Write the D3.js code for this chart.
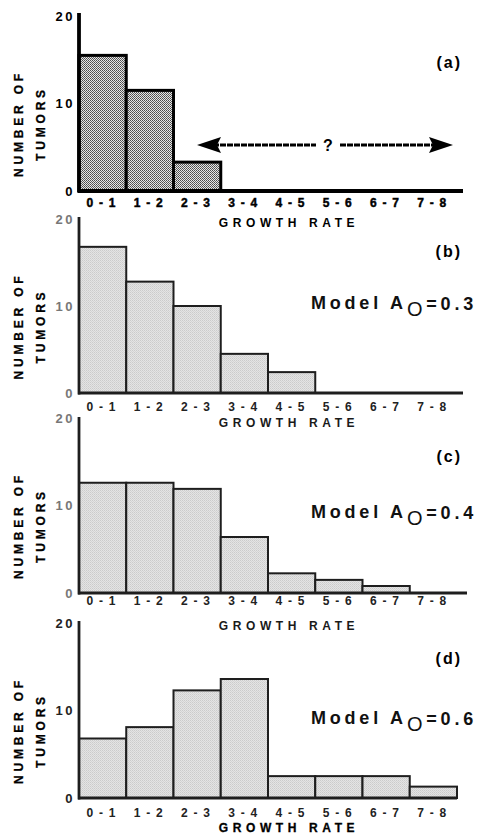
<!DOCTYPE html>
<html>
<head>
<meta charset="utf-8">
<script src="https://cdn.jsdelivr.net/npm/d3@7"></script>
<style>
  html, body { margin: 0; padding: 0; background: #fff; }
  svg { display: block; }
  text { font-family: "Liberation Sans", Arial, sans-serif; }
</style>
</head>
<body>
<svg id="chart" width="479" height="834"></svg>
<script>
// Growth-rate bins shared by all four histograms
const categories = ["0-1", "1-2", "2-3", "3-4", "4-5", "5-6", "6-7", "7-8"];

// Number of tumors per growth-rate bin
const observedCounts = [15.5, 11.5, 3.3];                              // (a)
const modelA03 = [16.8, 12.8, 10.0, 4.5, 2.4];                         // (b)
const modelA04 = [12.6, 12.6, 11.9, 6.4, 2.25, 1.5, 0.8];              // (c)
const modelA06 = [6.8, 8.1, 12.3, 13.6, 2.5, 2.5, 2.5, 1.3];           // (d)

const yTicks = [0, 10, 20];
const panelLetters = ["(a)", "(b)", "(c)", "(d)"];
const modelLabels = [null, "0.3", "0.4", "0.6"];
const xTitle = "GROWTH RATE";
const yTitle = ["NUMBER OF", "TUMORS"];

const svg = d3.select("#chart");

// Fill textures: heavy stipple for the observed data, fine light screen for the models
const defs = svg.append("defs");
const dark = defs.append("pattern").attr("id", "stippleDark")
  .attr("width", 2).attr("height", 2).attr("patternUnits", "userSpaceOnUse");
dark.append("rect").attr("width", 2).attr("height", 2).attr("fill", "#e6e6e6");
dark.append("rect").attr("x", 0).attr("y", 0).attr("width", 1).attr("height", 1).attr("fill", "#4a4a4a");
dark.append("rect").attr("x", 1).attr("y", 1).attr("width", 1).attr("height", 1).attr("fill", "#626262");

const light = defs.append("pattern").attr("id", "stippleLight")
  .attr("width", 2).attr("height", 2).attr("patternUnits", "userSpaceOnUse");
light.append("rect").attr("width", 2).attr("height", 2).attr("fill", "#e4e4e4");
light.append("rect").attr("x", 0).attr("y", 0).attr("width", 1).attr("height", 1).attr("fill", "#cbcbcb");
light.append("rect").attr("x", 1).attr("y", 1).attr("width", 1).attr("height", 1).attr("fill", "#d4d4d4");

const panels = [
  { values: observedCounts, base: 191, top: 16, axisTop: 13, axisEnd: 463, tickY: 203, titleY: 223,
    fill: "url(#stippleDark)", stroke: "#000", sw: 3, ink: "#000", tickInk: "#000", yTickInk: "#000",
    letterY: 62, modelY: null },
  { values: modelA03, base: 393, top: 219, axisTop: 217, axisEnd: 463, tickY: 407, titleY: 423,
    fill: "url(#stippleLight)", stroke: "#1e1e1e", sw: 2, ink: "#1a1a1a", tickInk: "#222", yTickInk: "#777",
    letterY: 251, modelY: 303 },
  { values: modelA04, base: 593, top: 418, axisTop: 417, axisEnd: 467, tickY: 601, titleY: 626,
    fill: "url(#stippleLight)", stroke: "#1e1e1e", sw: 2, ink: "#1a1a1a", tickInk: "#222", yTickInk: "#777",
    letterY: 456, modelY: 512 },
  { values: modelA06, base: 798, top: 623, axisTop: 621, axisEnd: 457, tickY: 813, titleY: 828,
    fill: "url(#stippleLight)", stroke: "#1e1e1e", sw: 2, ink: "#000", tickInk: "#222", yTickInk: "#222",
    letterY: 658, modelY: 718 }
];

const x = d3.scaleBand().domain(categories).range([79, 457]).paddingInner(0).paddingOuter(0);

panels.forEach((p, i) => {
  const g = svg.append("g");
  const y = d3.scaleLinear().domain([0, 20]).range([p.base, p.top]);
  const data = p.values.map((v, k) => ({ cat: categories[k], v }));

  // bars
  g.selectAll("rect.bar").data(data).join("rect")
    .attr("class", "bar")
    .attr("x", d => x(d.cat))
    .attr("y", d => y(d.v))
    .attr("width", x.bandwidth())
    .attr("height", d => y(0) - y(d.v))
    .attr("fill", p.fill)
    .attr("stroke", p.stroke)
    .attr("stroke-width", p.sw);

  // axes: vertical line to the top, baseline across all bins
  g.append("line").attr("x1", 79).attr("x2", 79).attr("y1", p.axisTop).attr("y2", p.base + 1.5)
    .attr("stroke", p.stroke).attr("stroke-width", p.sw + 0.8);
  g.append("line").attr("x1", 78).attr("x2", p.axisEnd).attr("y1", p.base).attr("y2", p.base)
    .attr("stroke", p.stroke).attr("stroke-width", p.sw + 0.8);

  // y tick labels
  g.selectAll("text.ytick").data(yTicks).join("text")
    .attr("class", "ytick")
    .attr("x", 75)
    .attr("y", d => y(d))
    .attr("dy", "0.36em")
    .attr("text-anchor", "end")
    .attr("font-size", 13)
    .attr("font-weight", "bold")
    .attr("letter-spacing", 2.5)
    .attr("fill", p.yTickInk)
    .text(d => d);

  // x tick labels
  g.selectAll("text.xtick").data(categories).join("text")
    .attr("class", "xtick")
    .attr("x", d => x(d) + x.bandwidth() / 2 - 1)
    .attr("y", p.tickY)
    .attr("dy", "0.36em")
    .attr("text-anchor", "middle")
    .attr("font-size", 12)
    .attr("font-weight", "bold")
    .attr("letter-spacing", 1.2)
    .attr("fill", p.tickInk)
    .attr("stroke", i === 0 ? "#000" : "none")
    .attr("stroke-width", 0.45)
    .text(d => d.replace("-", " - "));

  // x axis title
  g.append("text")
    .attr("x", 289).attr("y", p.titleY).attr("dy", "0.36em")
    .attr("text-anchor", "middle")
    .attr("font-size", 12).attr("font-weight", "bold")
    .attr("letter-spacing", 4.6)
    .attr("fill", p.ink)
    .attr("stroke", i === 3 ? "#000" : "none").attr("stroke-width", 0.3)
    .text(xTitle);

  // y axis title (two rotated lines)
  const cy = (p.base + p.top) / 2 + 20;
  yTitle.forEach((line, j) => {
    g.append("text")
      .attr("transform", `translate(${19 + j * 22},${cy}) rotate(-90)`)
      .attr("text-anchor", "middle")
      .attr("dy", "0.36em")
      .attr("font-size", 12).attr("font-weight", "bold")
      .attr("letter-spacing", 3.8)
      .attr("fill", "#000")
      .attr("stroke", "#000").attr("stroke-width", 0.3)
      .text(line);
  });

  // panel letter
  g.append("text")
    .attr("x", 462).attr("y", p.letterY).attr("dy", "0.36em")
    .attr("text-anchor", "end")
    .attr("font-size", 16).attr("font-weight", "bold")
    .attr("letter-spacing", 2)
    .attr("fill", "#000")
    .text(panelLetters[i]);

  // model label with subscripted O
  if (p.modelY !== null) {
    const t = g.append("text")
      .attr("x", 477).attr("y", p.modelY).attr("dy", "0.36em")
      .attr("text-anchor", "end")
      .attr("font-size", 18).attr("font-weight", "bold")
      .attr("letter-spacing", 3.8)
      .attr("fill", "#111");
    t.append("tspan").text("Model A");
    t.append("tspan").attr("dy", "0.32em").attr("font-size", 20).attr("font-weight", "normal").text("O");
    t.append("tspan").attr("dy", "-0.32em").text("=" + modelLabels[i]);
  }
});

// Unknown-range arrow in panel (a)
const arrowY = 145;
const ax0 = 197, ax1 = 453, qx = 328;
const ag = svg.append("g");
ag.append("line").attr("x1", ax0 + 16).attr("x2", qx - 12).attr("y1", arrowY).attr("y2", arrowY)
  .attr("stroke", "#000").attr("stroke-width", 2.8).attr("stroke-dasharray", "6,1");
ag.append("line").attr("x1", qx + 12).attr("x2", ax1 - 16).attr("y1", arrowY).attr("y2", arrowY)
  .attr("stroke", "#000").attr("stroke-width", 2.8).attr("stroke-dasharray", "6,1");
ag.append("path")
  .attr("d", `M${ax0},${arrowY} L${ax0 + 24},${arrowY - 8} L${ax0 + 20},${arrowY} L${ax0 + 24},${arrowY + 8} Z`)
  .attr("fill", "#000");
ag.append("path")
  .attr("d", `M${ax1},${arrowY} L${ax1 - 24},${arrowY - 8} L${ax1 - 20},${arrowY} L${ax1 - 24},${arrowY + 8} Z`)
  .attr("fill", "#000");
ag.append("text").attr("x", qx).attr("y", arrowY).attr("dy", "0.36em")
  .attr("text-anchor", "middle").attr("font-size", 16).attr("font-weight", "bold")
  .attr("fill", "#000").text("?");
</script>
</body>
</html>
